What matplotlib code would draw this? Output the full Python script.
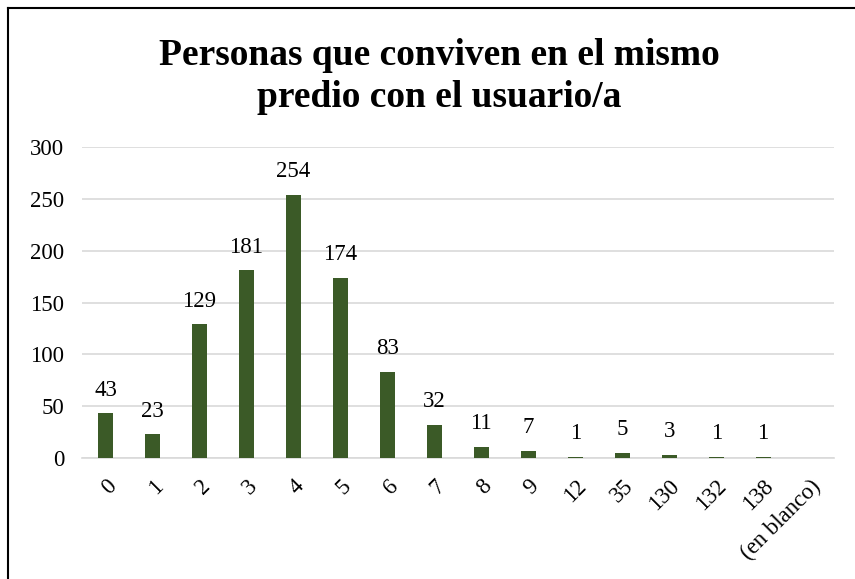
import matplotlib
matplotlib.use("Agg")
import matplotlib.pyplot as plt
from matplotlib.lines import Line2D

# ─── Data ────────────────────────────────────────────
categories = ["0", "1", "2", "3", "4", "5", "6", "7", "8", "9",
              "12", "35", "130", "132", "138", "(en blanco)"]
counts = [43, 23, 129, 181, 254, 174, 83, 32, 11, 7, 1, 5, 3, 1, 1, None]
title = "Personas que conviven en el mismo\npredio con el usuario/a"

BAR_COLOR = "#3B5A27"
GRID_COLOR = "#D9D9D9"
FS = 16.5

plt.rcParams["font.family"] = ["Liberation Serif", "DejaVu Serif"]

fig = plt.figure(figsize=(8.55, 5.79), dpi=100)
ax = fig.add_axes([0.096, 0.209, 0.879, 0.537])

x = list(range(len(categories)))
heights = [c if c is not None else 0 for c in counts]
ax.bar(x, heights, width=0.32, color=BAR_COLOR, zorder=3)

for xi, c in zip(x, counts):
    if c is None:
        continue
    ax.annotate(str(c), (xi, c), xytext=(0, 9), textcoords="offset points",
                ha="center", va="bottom", fontsize=FS, color="black")

ax.set_xlim(-0.5, len(categories) - 0.5)
ax.set_ylim(0, 300)
ax.set_yticks(range(0, 301, 50))
ax.yaxis.grid(True, color=GRID_COLOR, linewidth=1.2, zorder=0)
ax.set_axisbelow(True)
for side in ["top", "right", "left"]:
    ax.spines[side].set_visible(False)
ax.spines["bottom"].set_color(GRID_COLOR)
ax.spines["bottom"].set_linewidth(1.2)
ax.tick_params(axis="y", length=0, pad=13, labelsize=FS)
ax.tick_params(axis="x", length=0, pad=13, labelsize=FS)
ax.set_xticks(x)
ax.set_xticklabels(categories, rotation=45, ha="right", rotation_mode="anchor")

fig.text(0.514, 0.868, title, ha="center", va="center", fontsize=27,
         fontweight="bold", linespacing=1.27)

# chart frame (only left and top edges show in the crop)
fig.add_artist(Line2D([8 / 855, 8 / 855], [0, 1 - 8 / 579], transform=fig.transFigure,
                      color="black", linewidth=1.5))
fig.add_artist(Line2D([8 / 855, 1], [1 - 8 / 579, 1 - 8 / 579], transform=fig.transFigure,
                      color="black", linewidth=1.5))

fig.savefig("out.png", dpi=100)
